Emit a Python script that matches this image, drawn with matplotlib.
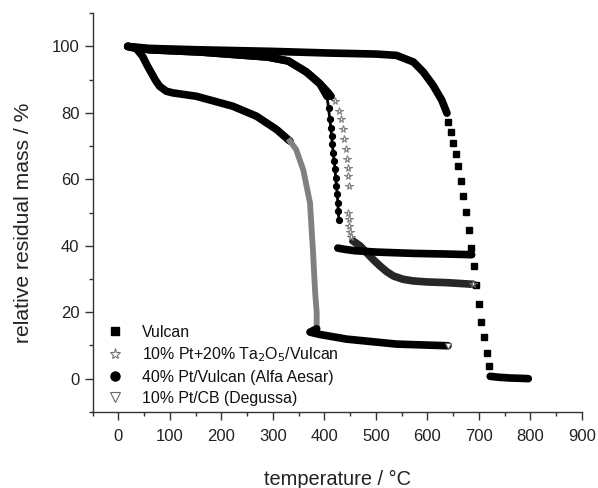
import matplotlib
matplotlib.use("Agg")
import matplotlib.pyplot as plt
from matplotlib.lines import Line2D
from matplotlib.ticker import MultipleLocator

plt.rcParams['font.family'] = ['Liberation Sans', 'DejaVu Sans']

# Vulcan (squares): dense part, sparse drop, dense tail
vulcan_T = [18, 60, 150, 300, 410, 500, 540, 573, 592, 611, 628, 638]
vulcan_m = [100, 99.4, 99.0, 98.5, 98.0, 97.7, 97.3, 95.3, 92.3, 88.3, 83.8, 79.9]
vulcan_drop_T = [641, 646, 650, 656, 660, 665, 670, 675, 680, 685, 690, 695, 700, 704, 710, 715, 720]
vulcan_drop_m = [77.3, 74.3, 71.0, 67.5, 63.9, 59.5, 55.0, 50.2, 44.6, 39.4, 33.9, 28.2, 22.4, 17.2, 12.5, 7.8, 3.9]
vulcan_tail_T = [722, 740, 760, 780, 796]
vulcan_tail_m = [0.7, 0.4, 0.2, 0.1, 0.0]

# 10% Pt + 20% Ta2O5 / Vulcan (stars)
ta_T = [18, 60, 160, 290, 330, 365, 391, 405, 413]
ta_m = [100, 99.0, 98.3, 96.8, 95.6, 92.3, 88.8, 86.5, 85.0]
ta_drop_T = [420, 428, 433, 436, 439, 441, 443, 445, 446, 447.5, 446, 447, 448.5, 450.5, 452.5]
ta_drop_m = [83.5, 80.5, 78.0, 75.0, 72.0, 69.0, 66.0, 63.5, 61.0, 58.0, 50.0, 48.0, 46.0, 44.0, 42.5]
ta_tail_T = [455, 469, 482, 495, 508, 521, 534, 553, 573, 600, 637, 689]
ta_tail_m = [41.5, 40.0, 37.9, 35.8, 33.9, 32.2, 30.9, 29.9, 29.4, 29.1, 28.9, 28.4]

# 40% Pt / Vulcan (Alfa Aesar) (circles)
pt40_T = [18, 60, 160, 290, 330, 365, 391, 405]
pt40_m = [100, 99.0, 98.3, 96.8, 95.6, 92.3, 88.8, 85.0]
pt40_drop_T = [405, 408, 410.5, 412.5, 414, 415.5, 417, 419, 420.5, 422, 423.5, 425, 426, 427, 428]
pt40_drop_m = [85.0, 81.5, 78.0, 75.5, 73.0, 70.5, 68.0, 65.5, 63.0, 60.5, 58.0, 55.5, 53.0, 50.5, 47.8]
pt40_tail_T = [426, 440, 460, 500, 573, 640, 686]
pt40_tail_m = [39.3, 38.9, 38.5, 38.1, 37.7, 37.5, 37.3]

# 10% Pt / CB (Degussa) (triangles)
cb_T = [18, 35, 47, 55, 64, 72, 80, 93, 106, 151, 222, 268, 307, 333]
cb_m = [100, 99.3, 97.0, 94.5, 92.0, 89.8, 88.0, 86.5, 86.0, 85.0, 82.0, 79.0, 75.0, 71.5]
cb_drop_T = [333, 345, 359, 372, 378, 382, 385, 385]
cb_drop_m = [71.5, 69.0, 62.8, 52.9, 37.9, 26.0, 19.9, 15.5]
cb_tail_T = [385, 372, 391, 443, 540, 640]
cb_tail_m = [15.0, 14.0, 13.3, 11.9, 10.4, 9.9]

labels = ["Vulcan", "10% Pt+20% Ta$_2$O$_5$/Vulcan",
          "40% Pt/Vulcan (Alfa Aesar)", "10% Pt/CB (Degussa)"]

fig = plt.figure(figsize=(5.98, 4.88), dpi=100)
ax = fig.add_axes([0.155, 0.156, 0.818, 0.817])

band = 5.5
# Degussa
ax.plot(cb_T, cb_m, '-', color='black', lw=band, solid_capstyle='round', zorder=2)
ax.plot(cb_drop_T, cb_drop_m, '-', color='0.5', lw=4.2, zorder=2)
ax.plot(cb_tail_T, cb_tail_m, '-', color='black', lw=band, solid_capstyle='round', zorder=2)
ax.plot(cb_tail_T[-1:], cb_tail_m[-1:], 'v', mfc='white', mec='0.4', ms=5, mew=0.8, zorder=5)

# Ta2O5
ax.plot(ta_T, ta_m, '-', color='black', lw=band, solid_capstyle='round', zorder=2)
ax.plot(ta_drop_T, ta_drop_m, '*', ls='none', mfc='white', mec='0.5', ms=5.5, mew=0.8, zorder=3)
ax.plot(ta_tail_T, ta_tail_m, '-', color='0.15', lw=band, solid_capstyle='round', zorder=2)
ax.plot(ta_tail_T[-1:], ta_tail_m[-1:], '*', mfc='white', mec='0.4', ms=5.5, mew=0.8, zorder=5)

# 40% Pt/Vulcan
ax.plot(pt40_T, pt40_m, '-', color='black', lw=band, solid_capstyle='round', zorder=3)
ax.plot(pt40_drop_T, pt40_drop_m, 'o', ls='-', color='black', lw=2.0, ms=4.2, zorder=3)
ax.plot(pt40_tail_T, pt40_tail_m, '-', color='black', lw=band, solid_capstyle='round', zorder=3)

# Vulcan
ax.plot(vulcan_T, vulcan_m, '-', color='black', lw=band, solid_capstyle='round', zorder=4)
ax.plot(vulcan_drop_T, vulcan_drop_m, 's', ls='none', color='black', ms=4.4, zorder=4)
ax.plot(vulcan_tail_T, vulcan_tail_m, '-', color='black', lw=band, solid_capstyle='round', zorder=4)

ax.set_xlim(-50, 900)
ax.set_ylim(-10, 110)
ax.set_xticks(range(0, 901, 100))
ax.xaxis.set_minor_locator(MultipleLocator(50))
ax.yaxis.set_major_locator(MultipleLocator(20))
ax.yaxis.set_minor_locator(MultipleLocator(10))
ax.spines['top'].set_visible(False)
ax.spines['right'].set_visible(False)
for s in ['left', 'bottom']:
    ax.spines[s].set_color('#333333')
    ax.spines[s].set_linewidth(1.0)
ax.tick_params(which='major', direction='out', length=6, width=1.0, color='#333333',
               labelsize=12, labelcolor='#222222')
ax.tick_params(axis='x', which='major', pad=6)
ax.tick_params(which='minor', direction='out', length=3, width=1.0, color='#333333')

ax.set_xlabel("temperature / °C", fontsize=14.4, color='#222222')
ax.xaxis.set_label_coords(0.5, -0.145)
ax.set_ylabel("relative residual mass / %", fontsize=15.2, color='#222222')
ax.yaxis.set_label_coords(-0.122, 0.474)

handles = [
    Line2D([], [], marker='s', ls='none', color='black', ms=5.5),
    Line2D([], [], marker='*', ls='none', mfc='white', mec='0.45', ms=8, mew=0.8),
    Line2D([], [], marker='o', ls='none', color='black', ms=6.5),
    Line2D([], [], marker='v', ls='none', mfc='white', mec='0.4', ms=6.5, mew=0.8),
]
ax.legend(handles, labels, loc='lower left', bbox_to_anchor=(0.0, -0.012), frameon=False,
          fontsize=11.4, handlelength=1.4, handletextpad=1.0, labelspacing=0.36,
          borderaxespad=0.3, labelcolor='#111111')

fig.savefig("out.png", dpi=100)
